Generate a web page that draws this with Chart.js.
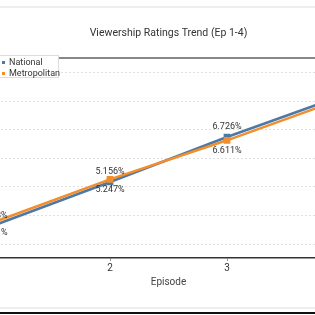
<!DOCTYPE html>
<html>
<head>
<meta charset="utf-8">
<script src="https://cdn.jsdelivr.net/npm/chart.js@4"></script>
<style>
  body { margin: 0; background: #fff; }
  #wrap { position: relative; width: 315px; height: 315px; overflow: hidden; background: #fff; font-family: Roboto, sans-serif; }
  #chart { position: absolute; left: -62px; top: 0; }
  .band { position: absolute; left: 0; width: 315px; height: 2px; background: #eeeeee; }
  #rule { position: absolute; left: 0; top: 312px; width: 315px; height: 2px; background: #111; }
  #legend { position: absolute; left: -10px; top: 55px; width: 69px; height: 23px; background: #fff;
            border: 1px solid #dddddd; font-size: 9px; color: #333; padding-top: 1px; box-sizing: border-box; }
  #legend div { height: 11px; line-height: 11px; padding-left: 10px; position: relative; }
  #legend span { position: absolute; left: 11px; top: 4px; width: 3px; height: 3px; }
  #legend b { font-weight: normal; margin-left: 8px; }
</style>
</head>
<body>
<div id="wrap">
  <div class="band" style="top:6px"></div>
  <canvas id="chart" width="461" height="300"></canvas>
  <div id="legend"></div>
  <div class="band" style="top:307px"></div>
  <div id="rule"></div>
</div>
<script>
// Viewership ratings, episodes 1-4
const episodes = ['1', '2', '3', '4'];
const national = [3.628, 5.156, 6.726, 8.192];
const metropolitan = [3.741, 5.247, 6.611, 8.087];
const yTicks = [3, 4, 5, 6, 7, 8, 9];

const seriesNames = ['National', 'Metropolitan'];
const seriesColors = ['#4e79a7', '#f28e2b'];

// legend box sits over the plot, top left
const legendEl = document.getElementById('legend');
seriesNames.forEach((name, i) => {
  const row = document.createElement('div');
  const mark = document.createElement('span');
  mark.style.background = seriesColors[i];
  const label = document.createElement('b');
  label.textContent = name;
  row.appendChild(mark);
  row.appendChild(label);
  legendEl.appendChild(row);
});

// dotted horizontal grid at each y tick
const dottedGrid = {
  id: 'dottedGrid',
  beforeDatasetsDraw(chart) {
    const { ctx: c, chartArea: a, scales } = chart;
    c.save();
    c.strokeStyle = '#e0e0e0';
    c.lineWidth = 1;
    c.setLineDash([2, 2]);
    scales.y.ticks.forEach(t => {
      const y = Math.round(scales.y.getPixelForValue(t.value)) + 0.5;
      c.beginPath();
      c.moveTo(a.left, y);
      c.lineTo(a.right, y);
      c.stroke();
    });
    c.restore();
  }
};

// value labels: National above its point, Metropolitan below
const pointLabels = {
  id: 'pointLabels',
  afterDatasetsDraw(chart) {
    const c = chart.ctx;
    c.save();
    c.font = '9px Roboto, sans-serif';
    c.fillStyle = '#333';
    c.textAlign = 'center';
    c.textBaseline = 'middle';
    chart.data.datasets.forEach((ds, i) => {
      const meta = chart.getDatasetMeta(i);
      const dy = i === 0 ? -10 : 10;
      meta.data.forEach((pt, j) => {
        c.fillText(ds.data[j].toFixed(3) + '%', pt.x, pt.y + dy);
      });
    });
    c.restore();
  }
};

new Chart(document.getElementById('chart'), {
  type: 'line',
  data: {
    labels: episodes,
    datasets: [
      {
        label: seriesNames[0],
        data: national,
        borderColor: seriesColors[0],
        backgroundColor: seriesColors[0],
        borderWidth: 2.5,
        pointStyle: 'rect',
        pointRadius: 3,
        tension: 0,
        order: 2,
      },
      {
        label: seriesNames[1],
        data: metropolitan,
        borderColor: seriesColors[1],
        backgroundColor: seriesColors[1],
        borderWidth: 2.5,
        pointStyle: 'rect',
        pointRadius: 3,
        tension: 0,
        order: 1,
      },
    ],
  },
  options: {
    responsive: false,
    animation: false,
    // y labels fall outside the visible crop, so the axis takes no width
    layout: { padding: { left: 55, right: 55, top: 0, bottom: 8 } },
    scales: {
      x: {
        offset: false,
        grid: { drawOnChartArea: false, drawTicks: true, tickLength: 3, color: '#999' },
        border: { color: '#333', width: 1.5 },
        ticks: { padding: 1, color: '#333', font: { size: 10, family: 'Roboto' } },
        title: { display: true, text: 'Episode', color: '#444', font: { size: 10, family: 'Roboto' }, padding: { top: 1, bottom: 4 } },
      },
      xTop: {
        type: 'linear',
        position: 'top',
        grid: { display: false },
        ticks: { display: false },
        border: { color: '#888', width: 2 },
      },
      y: {
        min: 2.5,
        max: 9.5,
        afterBuildTicks: s => { s.ticks = yTicks.map(v => ({ value: v })); },
        afterFit: s => { s.width = 0; },
        grid: { display: false },
        border: { display: false },
        ticks: { display: false },
      },
    },
    plugins: {
      legend: { display: false },
      tooltip: { enabled: false },
      title: {
        display: true,
        text: 'Viewership Ratings Trend (Ep 1-4)',
        color: '#333',
        font: { size: 10.5, family: 'Roboto', weight: 'normal' },
        padding: { top: 27, bottom: 10 },
      },
    },
  },
  plugins: [dottedGrid, pointLabels],
});
</script>
</body>
</html>
